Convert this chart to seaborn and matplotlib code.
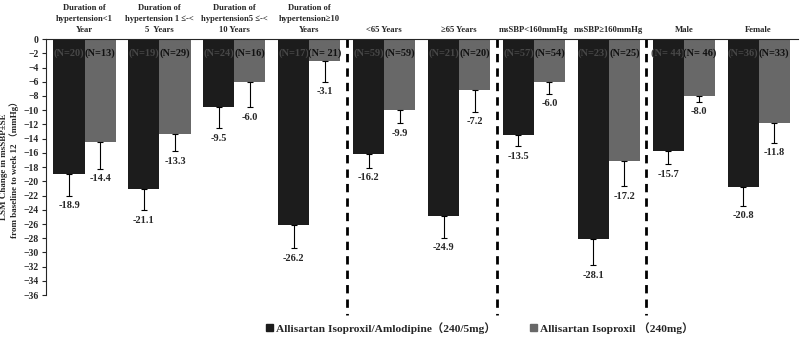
import numpy as np
import pandas as pd
import seaborn as sns
import matplotlib.pyplot as plt
from matplotlib.patches import Patch

# group titles shown above the bars
groups = ['Duration of\nhypertension<1\nYear',
          'Duration of\nhypertension 1 \u2264-<\n5  Years',
          'Duration of\nhypertension5 \u2264-<\n10 Years',
          'Duration of\nhypertension\u226510\nYears',
          '<65 Years', '\u226565 Years',
          'msSBP<160mmHg', 'msSBP\u2265160mmHg',
          'Male', 'Female']
treatments = ['Allisartan Isoproxil/Amlodipine\uff08240/5mg\uff09',
              'Allisartan Isoproxil \uff08240mg\uff09']

# LSM change and SE for each treatment
combo_mean = [-18.9, -21.1, -9.5, -26.2, -16.2, -24.9, -13.5, -28.1, -15.7, -20.8]
combo_se = [3.1, 3.0, 3.0, 3.2, 1.9, 3.0, 1.6, 3.7, 1.9, 2.6]
mono_mean = [-14.4, -13.3, -6.0, -3.1, -9.9, -7.2, -6.0, -17.2, -8.0, -11.8]
mono_se = [3.8, 2.5, 3.6, 2.9, 1.9, 3.0, 1.7, 3.5, 0.8, 2.8]
combo_n = ['(N=20)', '(N=19)', '(N=24)', '(N=17)', '(N=59)', '(N=21)', '(N=57)', '(N=23)', '(N= 44)', '(N=36)']
mono_n = ['(N=13)', '(N=29)', '(N=16)', '(N= 21)', '(N=59)', '(N=20)', '(N=54)', '(N=25)', '(N= 46)', '(N=33)']

colors = ['#1c1c1c', '#686868']

df = pd.DataFrame({
    'group': groups * 2,
    'treatment': [treatments[0]] * len(groups) + [treatments[1]] * len(groups),
    'change': combo_mean + mono_mean,
})

sns.set_style('ticks')
fams = ['Liberation Serif', 'Noto Sans CJK SC', 'DejaVu Serif']
plt.rcParams['font.family'] = fams
plt.rcParams['font.weight'] = 'bold'

fig = plt.figure(figsize=(8, 3.4), dpi=100)
ax = fig.add_axes([0.057, 0.132, 0.94, 0.753])

sns.barplot(data=df, x='group', y='change', hue='treatment', order=groups,
            hue_order=treatments, palette=colors, width=0.83, saturation=1,
            errorbar=None, legend=False, ax=ax)

ses = [combo_se, mono_se]
means = [combo_mean, mono_mean]
ns = [combo_n, mono_n]
ncol = ['#474747', '#111111']
bar_sets = list(ax.containers)
for k, cont in enumerate(bar_sets):
    for i, bar in enumerate(cont.patches):
        bar.set_edgecolor('none')
        xc = bar.get_x() + bar.get_width() / 2
        m = means[k][i]
        s = ses[k][i]
        ax.errorbar(xc, m, yerr=[[s], [0]], fmt='none', ecolor='black',
                    elinewidth=0.8, capsize=2.5, capthick=0.8)
        ax.annotate('%.1f' % m, (xc, m - s), xytext=(0, -4), textcoords='offset points',
                    ha='center', va='top', fontsize=7.5, fontweight='bold')
        ax.text(xc, -2, ns[k][i], ha='center', va='center', fontsize=7.5,
                fontweight='bold', color=ncol[k])

# dashed separators between sections
for xv in [3.5, 5.5, 7.5]:
    ax.plot([xv, xv], [0, -38.8], color='black', lw=2, ls=(0, (3, 2.2)), clip_on=False)

ax.set_ylim(-36, 0)
ax.set_xlim(-0.52, 9.52)
ax.set_yticks(np.arange(0, -37, -2))
ax.tick_params(axis='y', labelsize=7, length=3, width=0.8, pad=2)

ax.xaxis.tick_top()
ax.set_xticks(range(len(groups)))
ax.set_xticklabels(groups, fontsize=6.2, fontweight='bold', linespacing=1.5)
ax.set_xticks(np.arange(0.5, 9.5, 1), minor=True)
ax.tick_params(axis='x', which='major', length=0, pad=4)
ax.tick_params(axis='x', which='minor', direction='in', length=3, width=0.8, top=True, bottom=False)
ax.set_xlabel('')

ax.set_ylabel('LSM Change in msSBP\u00b1SE\nfrom baseline to week 12 \uff08mmHg\uff09',
              fontsize=6.5, fontweight='bold', labelpad=3)

sns.despine(ax=ax, top=False, right=True, bottom=True)
for sp in ['left', 'top']:
    ax.spines[sp].set_linewidth(0.8)

handles = [Patch(color=c) for c in colors]
fig.legend(handles, treatments, loc='lower center', bbox_to_anchor=(0.6, -0.012), ncol=2,
           frameon=False, handlelength=0.6, handleheight=0.6,
           handletextpad=0.3, columnspacing=3,
           prop={'family': fams, 'weight': 'bold', 'size': 8.2})

fig.savefig('out.png', dpi=100)
